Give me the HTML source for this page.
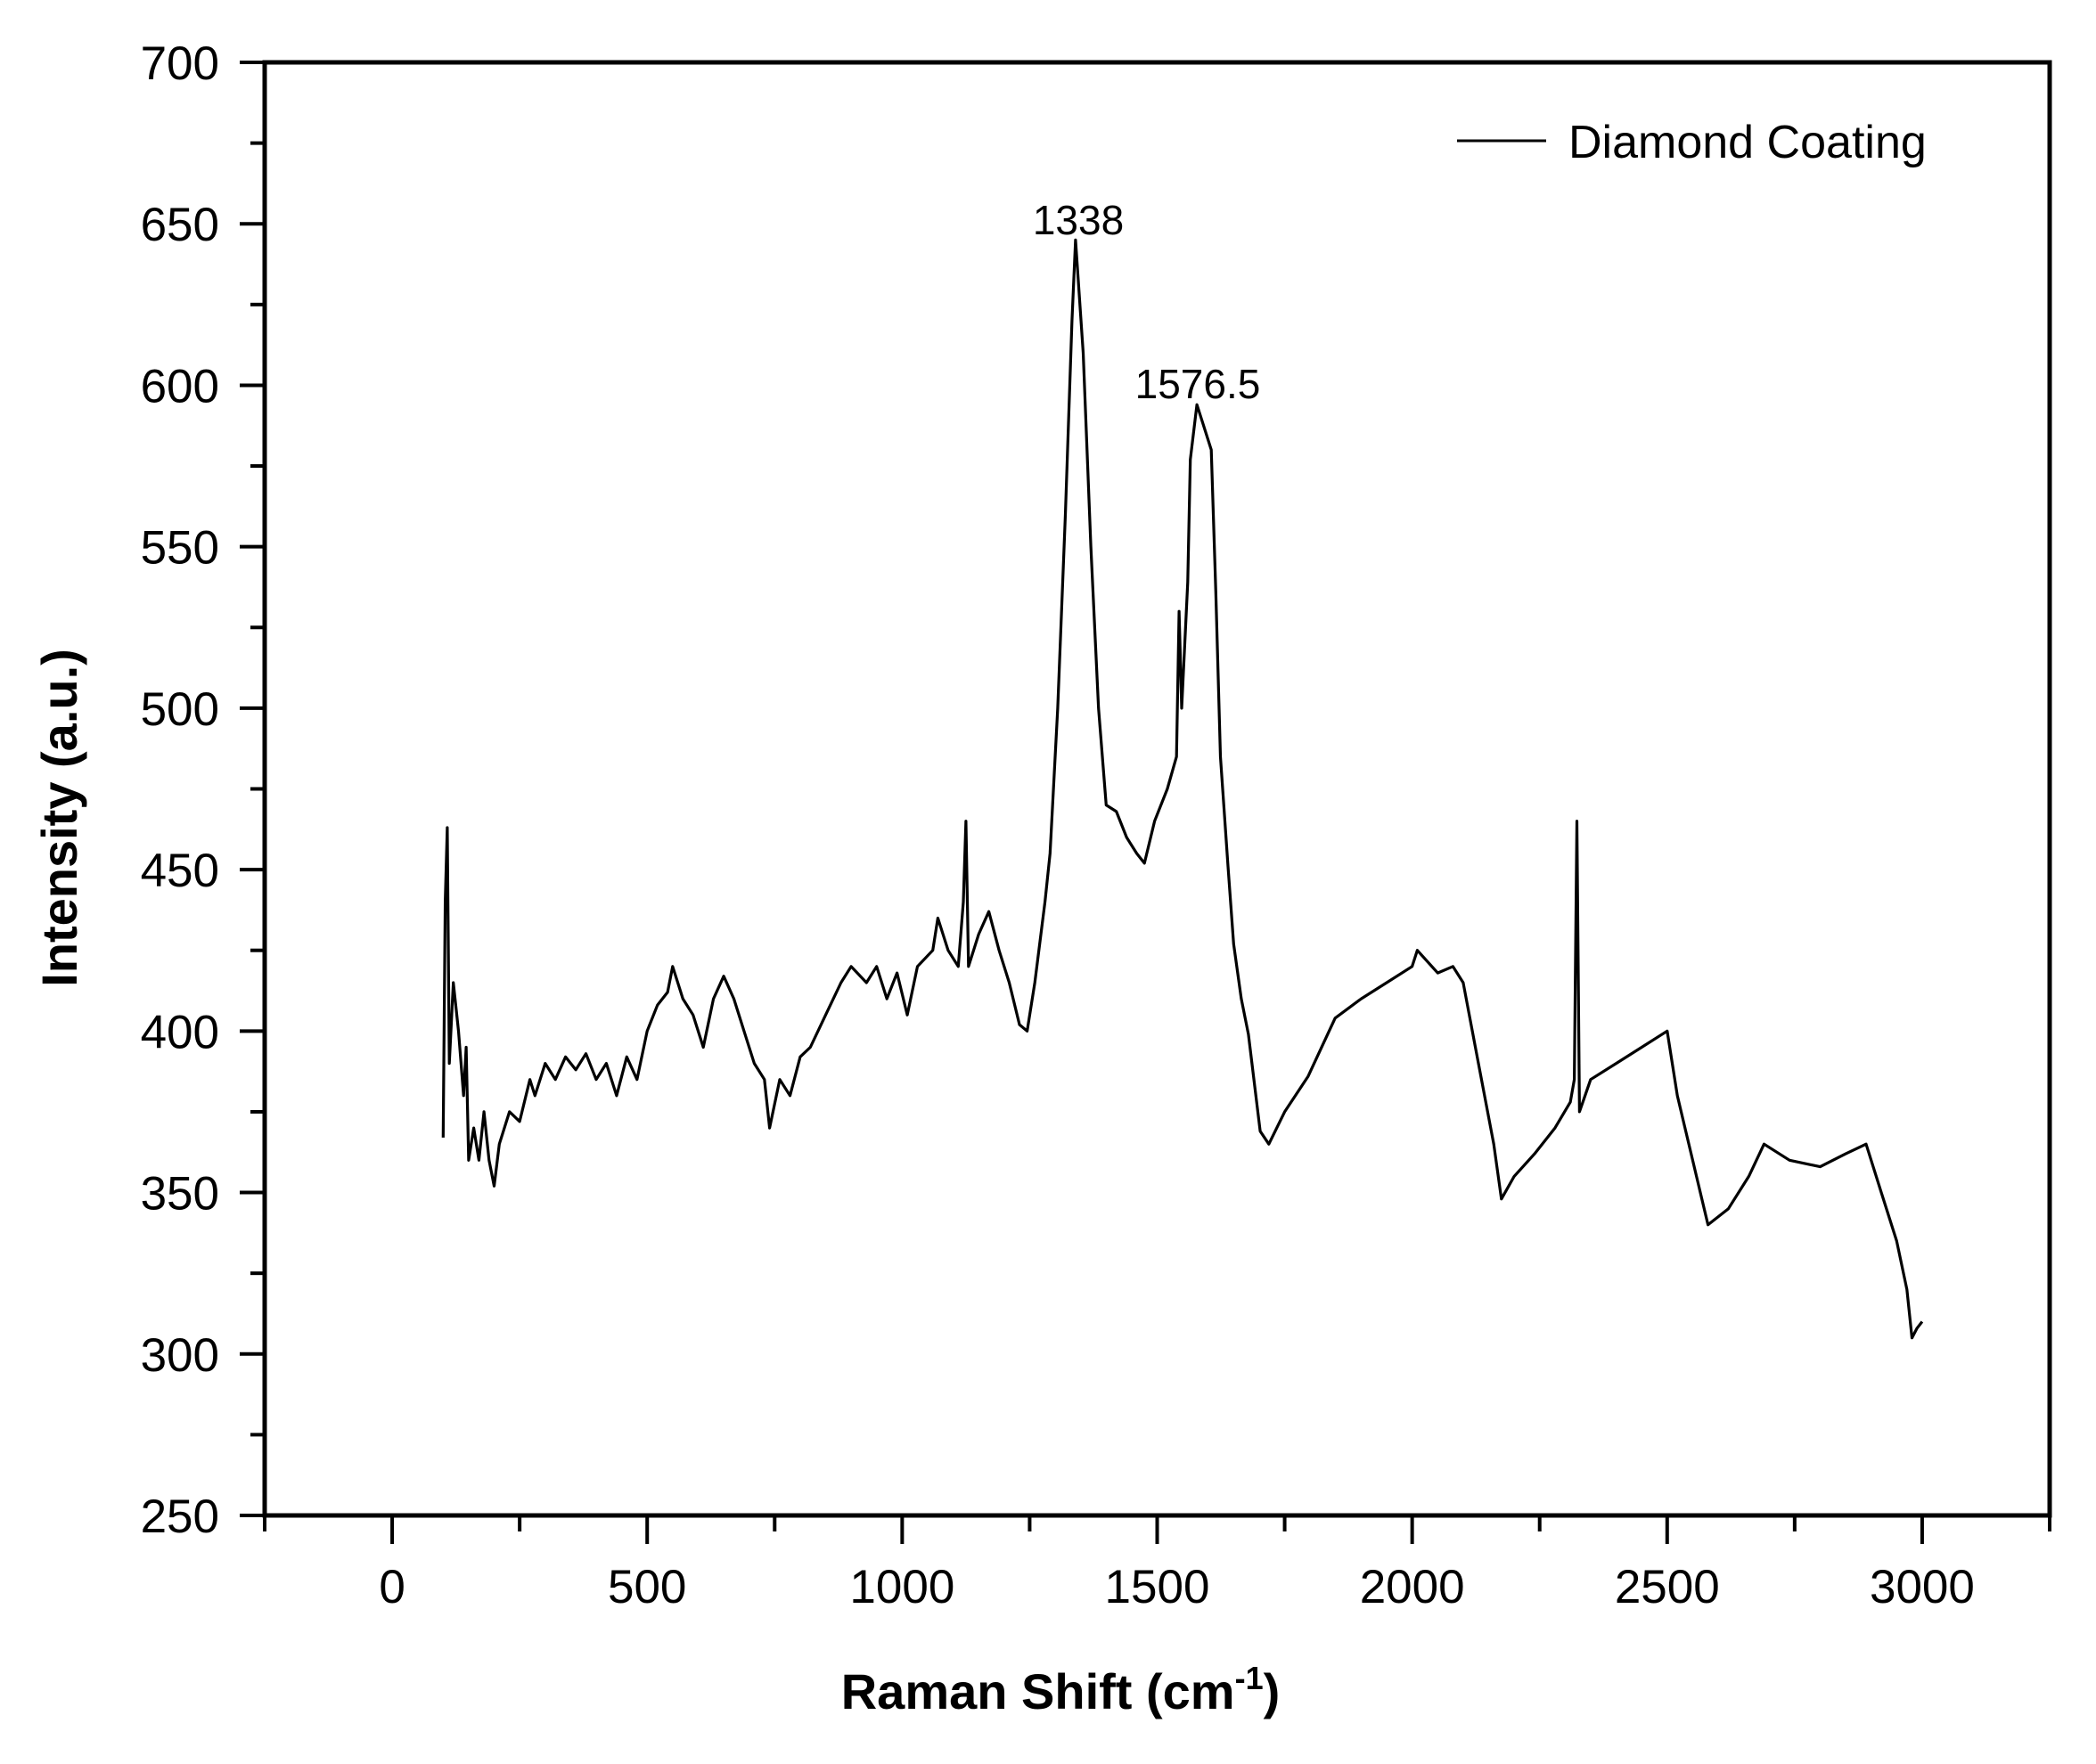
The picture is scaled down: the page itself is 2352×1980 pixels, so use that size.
<!DOCTYPE html>
<html><head><meta charset="utf-8"><style>
html,body{margin:0;padding:0;background:#fff;}
svg{display:block;}
text{font-family:"Liberation Sans",sans-serif;fill:#000;}
</style></head><body>
<svg id="chart" width="2352" height="1980" viewBox="0 0 2352 1980" xmlns="http://www.w3.org/2000/svg">
<rect x="0" y="0" width="2352" height="1980" fill="#fff"/>
<g id="axes"></g>
<path id="series" fill="none" stroke="#000" stroke-width="3.2" stroke-linejoin="round"/>
<text x="1210" y="263" font-size="46" text-anchor="middle">1338</text>
<text x="1344" y="447" font-size="46" text-anchor="middle">1576.5</text>
<line x1="1635" y1="158" x2="1735" y2="158" stroke="#000" stroke-width="3"/>
<text x="1760" y="177" font-size="52">Diamond Coating</text>
<text x="1190" y="1918" font-size="56" font-weight="bold" text-anchor="middle">Raman Shift (cm<tspan font-size="36" dy="-22">-1</tspan><tspan dy="22">)</tspan></text>
<text transform="translate(86,918) rotate(-90)" font-size="56" font-weight="bold" text-anchor="middle">Intensity (a.u.)</text>
</svg>
<script>
const xTicks = [0, 500, 1000, 1500, 2000, 2500, 3000];
const yTicks = [250, 300, 350, 400, 450, 500, 550, 600, 650, 700];
const shiftValues = [100,104,108,112,120,130,140,145,150,160,170,180,190,200,210,230,250,270,280,300,320,340,360,380,400,420,440,460,480,500,520,540,550,570,590,610,630,650,670,690,710,730,740,760,780,800,820,850,880,900,930,950,970,990,1010,1030,1060,1070,1090,1110,1120,1125,1130,1150,1170,1190,1210,1230,1245,1260,1280,1290,1305,1320,1333,1340,1355,1370,1385,1400,1420,1440,1460,1475,1495,1520,1538,1543,1548,1560,1565,1578,1590,1606,1615,1624,1639,1650,1665,1679,1702,1719,1750,1796,1849,1900,1950,2000,2010,2050,2080,2100,2130,2160,2175,2200,2240,2280,2310,2318,2323,2328,2350,2400,2450,2500,2520,2550,2580,2620,2660,2690,2740,2800,2850,2890,2920,2950,2970,2980,2990,3000];
const intensityValues = [367,440,463,390,415,400,380,395,360,370,360,375,360,352,365,375,372,385,380,390,385,392,388,393,385,390,380,392,385,400,408,412,420,410,405,395,410,417,410,400,390,385,370,385,380,392,395,405,415,420,415,420,410,418,405,420,425,435,425,420,440,465,420,430,437,425,415,402,400,415,440,455,500,560,620,645,610,550,500,470,468,460,455,452,465,475,485,530,500,539,577,594,588,580,536,485,451,427,410,399,369,365,375,386,404,410,415,420,425,418,420,415,390,365,348,355,362,370,378,385,465,375,385,390,395,400,380,360,340,345,355,365,360,358,362,365,350,335,320,305,308,310];

const X0=297, X1=2300, Y0=70, Y1=1701;
const xMin=-250, xMax=3250, yMin=250, yMax=700;
const sx = v => X0 + (v - xMin) / (xMax - xMin) * (X1 - X0);
const sy = v => Y1 - (v - yMin) / (yMax - yMin) * (Y1 - Y0);
const NS="http://www.w3.org/2000/svg";
const axes=document.getElementById('axes');
function mk(tag, attrs){const e=document.createElementNS(NS,tag);for(const k in attrs)e.setAttribute(k,attrs[k]);axes.appendChild(e);return e;}

const frame=mk('rect',{x:X0,y:Y0,width:X1-X0,height:Y1-Y0,fill:'none',stroke:'#000','stroke-width':5});



xTicks.forEach(t=>{
  const l=mk('line',{x1:sx(t),x2:sx(t),y1:Y1,y2:Y1+32,stroke:'#000','stroke-width':4});
  
  
  const tx=mk('text',{x:sx(t),y:1799,'font-size':53,'text-anchor':'middle'});
  tx.textContent=t;
  
  
  if(t+250<=3250){
    const m=mk('line',{x1:sx(t+250),x2:sx(t+250),y1:Y1,y2:Y1+18,stroke:'#000','stroke-width':4});
    
    
  }
});
const m0=mk('line',{x1:sx(-250),x2:sx(-250),y1:Y1,y2:Y1+18,stroke:'#000','stroke-width':4});



yTicks.forEach(t=>{
  const l=mk('line',{x1:X0-28,x2:X0,y1:sy(t),y2:sy(t),stroke:'#000','stroke-width':4});
  
  
  const tx=mk('text',{x:246,y:sy(t)+19,'font-size':53,'text-anchor':'end'});
  tx.textContent=t;
  
  
  if(t<700){
    const m=mk('line',{x1:X0-16,x2:X0,y1:sy(t+25),y2:sy(t+25),stroke:'#000','stroke-width':4});
    
    
  }
});

let d='';
shiftValues.forEach((x,i)=>{d+=(i?'L':'M')+sx(x).toFixed(1)+' '+sy(intensityValues[i]).toFixed(1);});
document.getElementById('series').setAttribute('d',d);
</script>
</body></html>
